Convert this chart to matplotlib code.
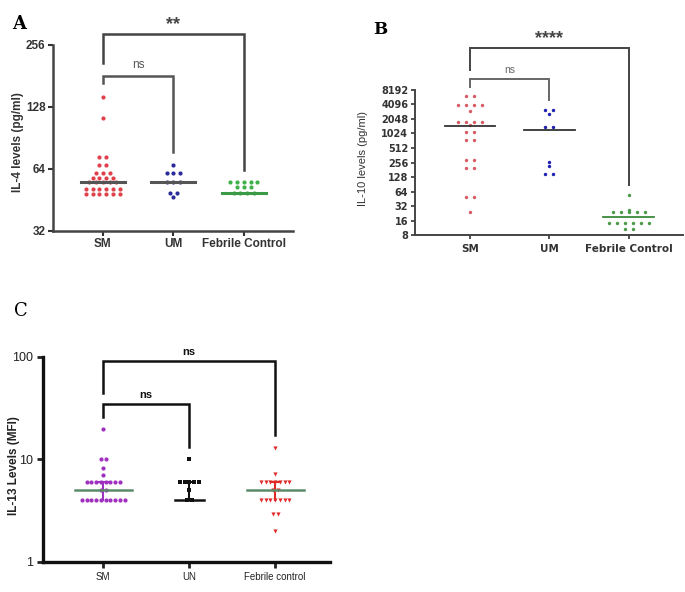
import numpy as np
import matplotlib
matplotlib.use("Agg")
import matplotlib.pyplot as plt

plt.rcParams['font.family'] = ['Liberation Sans', 'DejaVu Sans']

# Panel A - IL-4 (pg/ml)
groups_a = ['SM', 'UM', 'Febrile Control']
il4_sm = [143, 113, 73, 73, 67, 67, 61, 61, 61, 58, 58, 58, 58, 55, 55, 55, 55, 55,
          51, 51, 51, 51, 51, 51, 48.5, 48.5, 48.5, 48.5, 48.5, 48.5]
il4_um = [67, 61, 61, 61, 55, 55, 55, 49, 49, 46.5]
il4_fc = [55, 55, 55, 55, 55, 52, 52, 52, 49, 49, 49, 49]
il4_median = [55, 55, 49]

# Panel B - IL-10 (pg/ml)
groups_b = ['SM', 'UM', 'Febrile Control']
il10_sm = [6150, 6150, 4000, 4000, 4000, 4000, 3000, 1800, 1800, 1800, 1800, 1550,
           1100, 1100, 750, 750, 290, 290, 197, 197, 49, 49, 24]
il10_um = [3150, 3150, 2600, 1400, 1400, 262, 217, 147, 147]
il10_fc = [54, 24, 24, 24, 24, 24, 26, 14, 14, 14, 14, 14, 14, 10.6, 10.6]
il10_median = [1470, 1210, 19]

# Panel C - IL-13 (MFI)
groups_c = ['SM', 'UN', 'Febrile control']
il13_sm = [20, 10, 10, 8.3, 7.1, 6, 6, 6, 6, 6, 6, 6, 6, 5, 5,
           4, 4, 4, 4, 4, 4, 4, 4, 4, 4]
il13_un = [10, 6, 6, 6, 6, 6, 5, 4, 4]
il13_fc = [13, 7.2, 6, 6, 6, 6, 6, 6, 6, 5, 5, 4, 4, 4, 4, 4, 4, 4, 2.9, 2.9, 2.0]
il13_median = [5, 4, 5]
il13_q1 = [4, 4, 4]
il13_q3 = [6, 6, 6]


def swarm(values, step):
    vals = np.asarray(values, float)
    off = np.zeros(len(vals))
    for v in np.unique(vals):
        idx = np.where(vals == v)[0]
        off[idx] = (np.arange(len(idx)) - (len(idx) - 1) / 2) * step
    return off


def bracket(ax, x1, x2, y, y1, y2, text, col, lw, fs, weight, ty):
    ax.plot([x1, x1, x2, x2], [y1, y, y, y2], color=col, lw=lw, clip_on=False,
            solid_joinstyle='miter')
    ax.text((x1 + x2) / 2, ty, text, ha='center', va='bottom', fontsize=fs,
            color=col, fontweight=weight, clip_on=False)


fig = plt.figure(figsize=(6.85, 5.92), dpi=100)

# ---------------- A
axA = fig.add_axes([0.077, 0.610, 0.351, 0.314])
colsA = ['#e0404a', '#2a2a9a', '#3fb04a']
for i, (vals, c) in enumerate(zip([il4_sm, il4_um, il4_fc], colsA)):
    axA.scatter(i + swarm(vals, 0.095), vals, s=9, color=c, zorder=3, linewidths=0)
linecolA = ['#555555', '#555555', '#3a9a45']
for i, m in enumerate(il4_median):
    axA.plot([i - 0.31, i + 0.31], [m, m], color=linecolA[i], lw=2.2, zorder=4)
axA.set_yscale('log', base=2)
axA.set_ylim(32, 256)
axA.set_xlim(-0.71, 2.7)
axA.set_yticks([32, 64, 128, 256])
axA.set_yticklabels(['32', '64', '128', '256'])
axA.yaxis.set_minor_locator(matplotlib.ticker.NullLocator())
axA.set_xticks(range(3))
axA.set_xticklabels(groups_a)
axA.tick_params(labelsize=8.5, colors='#333333', width=1.5, length=3.5, pad=1.8)
for lab in axA.get_xticklabels() + axA.get_yticklabels():
    lab.set_fontweight('bold')
for s in ['top', 'right']:
    axA.spines[s].set_visible(False)
for s in ['left', 'bottom']:
    axA.spines[s].set_linewidth(1.8)
    axA.spines[s].set_color('#444444')
axA.set_ylabel('IL-4 levels (pg/ml)', fontsize=8.5, fontweight='bold', color='#333333')
axA.yaxis.set_label_coords(-0.12, 0.48)
bracket(axA, 0, 2, 290, 210, 63, '**', '#444444', 1.8, 13, 'bold', 292)
bracket(axA, 0, 1, 181, 168, 77, 'ns', '#555555', 1.8, 8.5, 'normal', 192)
fig.text(0.018, 0.975, 'A', fontsize=13, fontweight='bold', family='DejaVu Serif',
         va='top')

# ---------------- B
axB = fig.add_axes([0.606, 0.603, 0.391, 0.245])
colsB = ['#d85a66', '#2020b0', '#4a9a4a']
for i, (vals, c) in enumerate(zip([il10_sm, il10_um, il10_fc], colsB)):
    axB.scatter(i + swarm(vals, 0.1), vals, s=6, color=c, zorder=3, linewidths=0)
for i, m in enumerate(il10_median):
    axB.plot([i - 0.32, i + 0.32], [m, m], color='#333333' if i < 2 else '#3a8a3a',
             lw=1.3, zorder=4)
axB.set_yscale('log', base=2)
axB.set_ylim(8, 8192)
axB.set_xlim(-0.69, 2.68)
ticksB = [8, 16, 32, 64, 128, 256, 512, 1024, 2048, 4096, 8192]
axB.set_yticks(ticksB)
axB.set_yticklabels([str(t) for t in ticksB])
axB.yaxis.set_minor_locator(matplotlib.ticker.NullLocator())
axB.set_xticks(range(3))
axB.set_xticklabels(groups_b)
axB.tick_params(axis='y', labelsize=7, colors='#333333', width=1.2, length=3, pad=2)
axB.tick_params(axis='x', labelsize=7.5, colors='#333333', width=1.2, length=3)
for lab in axB.get_xticklabels() + axB.get_yticklabels():
    lab.set_fontweight('bold')
    lab.set_family('DejaVu Sans')
for s in ['top', 'right']:
    axB.spines[s].set_visible(False)
for s in ['left', 'bottom']:
    axB.spines[s].set_linewidth(1.4)
    axB.spines[s].set_color('#444444')
axB.set_ylabel('IL-10 levels (pg/ml)', fontsize=8, color='#333333')
axB.yaxis.set_label_coords(-0.175, 0.53)
bracket(axB, 0, 2, 2 ** 15.9, 2 ** 14.38, 2 ** 6.45, '****', '#444444', 1.4, 13,
        'bold', 2 ** 15.95)
bracket(axB, 0, 1, 2 ** 13.76, 2 ** 13.2, 2 ** 12.31, 'ns', '#666666', 1.4, 7.5,
        'normal', 2 ** 14.05)
fig.text(0.545, 0.965, 'B', fontsize=12, fontweight='bold', family='DejaVu Serif',
         va='top')

# ---------------- C
axC = fig.add_axes([0.063, 0.051, 0.419, 0.346])
colsC = ['#a030c0', '#111111', '#e02a2a']
markC = ['o', 's', 'v']
for i, (vals, c) in enumerate(zip([il13_sm, il13_un, il13_fc], colsC)):
    axC.scatter(i + swarm(vals, 0.055), vals, s=9, color=c, marker=markC[i],
                zorder=3, linewidths=0)
for i in range(3):
    axC.plot([i, i], [il13_q1[i], il13_q3[i]], color=colsC[i], lw=1.5, zorder=4)
    axC.plot([i - 0.05, i + 0.05], [il13_q3[i], il13_q3[i]], color=colsC[i], lw=1.5,
             zorder=4)
    w = 0.17 if i == 1 else 0.33
    mcol = '#111111' if i == 1 else '#5a8a6a'
    axC.plot([i - w, i + w], [il13_median[i], il13_median[i]], color=mcol, lw=1.8,
             zorder=5)
axC.set_yscale('log')
axC.set_ylim(1, 100)
axC.set_xlim(-0.70, 2.64)
axC.set_yticks([1, 10, 100])
axC.set_yticklabels(['1', '10', '100'])
axC.yaxis.set_minor_locator(matplotlib.ticker.NullLocator())
axC.set_xticks(range(3))
axC.set_xticklabels(groups_c)
axC.tick_params(axis='y', labelsize=9, colors='#222222', width=2, length=4)
axC.tick_params(axis='x', labelsize=7, colors='#222222', width=2, length=4)
for s in ['top', 'right']:
    axC.spines[s].set_visible(False)
for s in ['left', 'bottom']:
    axC.spines[s].set_linewidth(2.4)
    axC.spines[s].set_color('#111111')
axC.set_ylabel('IL-13 Levels (MFI)', fontsize=8.5, fontweight='bold', color='#222222')
axC.yaxis.set_label_coords(-0.08, 0.47)
bracket(axC, 0, 2, 91, 44.6, 17.4, 'ns', '#111111', 1.8, 8, 'bold', 100)
bracket(axC, 0, 1, 35, 25.7, 13.2, 'ns', '#111111', 1.8, 8, 'bold', 38)
fig.text(0.02, 0.49, 'C', fontsize=13, family='DejaVu Serif', va='top')

fig.savefig('out.png', dpi=100)
